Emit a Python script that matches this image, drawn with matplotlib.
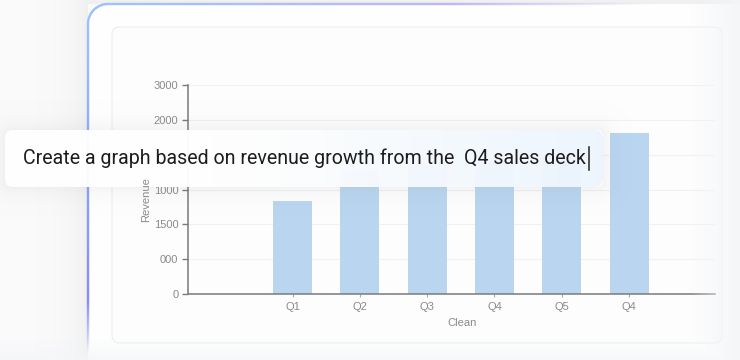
import numpy as np
import matplotlib
matplotlib.use("Agg")
import matplotlib.pyplot as plt
from matplotlib.patches import FancyBboxPatch

# ---- data ----
categories = ['Q1', 'Q2', 'Q3', 'Q4', 'Q5', 'Q4']
revenue = [1330, 1800, 1850, 1900, 1950, 2310]
ytick_values = [0, 500, 1000, 1500, 2000, 2500, 3000]
ytick_labels = ['0', '000', '1500', '1000', '', '2000', '3000']
x_label = 'Clean'
y_label = 'Revenue'
prompt_text = 'Create a graph based on revenue growth from the  Q4 sales deck'

W, H = 740, 360
fig = plt.figure(figsize=(W / 100, H / 100), dpi=100)
fig.patch.set_facecolor('#fafafb')

def frac(x, y):
    return x / W, (H - y) / H

# ---------- background layer ----------
bg = fig.add_axes([0, 0, 1, 1], zorder=0)
bg.set_xlim(0, W); bg.set_ylim(H, 0); bg.axis('off')

yy, xx = np.mgrid[0:H, 0:W].astype(float) + 0.5

def rect_dist(x0, y0, x1, y1):
    dx = np.maximum(np.maximum(x0 - xx, 0), xx - x1)
    dy = np.maximum(np.maximum(y0 - yy, 0), yy - y1)
    return np.hypot(dx, dy)

def rounded_sdf(x0, y0, x1, y1, r):
    cx, cy = (x0 + x1) / 2, (y0 + y1) / 2
    hx, hy = (x1 - x0) / 2, (y1 - y0) / 2
    qx = np.abs(xx - cx) - hx + r
    qy = np.abs(yy - cy) - hy + r
    out = np.hypot(np.maximum(qx, 0), np.maximum(qy, 0))
    ins = np.minimum(np.maximum(qx, qy), 0)
    return out + ins - r

# soft shadow left of outer card
d = rect_dist(88, 4, 800, 420)
sh = np.zeros((H, W, 4))
sh[..., :3] = 0.55
sh[..., 3] = np.where(d > 0, 0.10 * np.exp(-d / 16.0), 0)
bg.imshow(sh, extent=(0, W, H, 0), zorder=0, interpolation='nearest')

# outer card fill
outer = FancyBboxPatch((88, 4), 700, 400, boxstyle='round,pad=0,rounding_size=20',
                       fc='#fefefe', ec='none', zorder=1)
bg.add_patch(outer)

# gradient border of outer card (as image)
sdf = rounded_sdf(88, 4, 788, 404, 20)
mask = np.clip(1.7 - np.abs(sdf), 0, 1)
t_left = np.clip((yy - 24) / 336, 0, 1)
t_top = np.clip((xx - 108) / 380, 0, 1)
is_left = (xx < 108)
c_left0 = np.array([0.60, 0.76, 1.0]); c_left1 = np.array([0.50, 0.50, 0.98])
c_top0 = np.array([0.62, 0.77, 1.0]); c_top1 = np.array([0.76, 0.71, 0.98])
col_left = c_left0 * (1 - t_left[..., None]) + c_left1 * t_left[..., None]
col_top = c_top0 * (1 - t_top[..., None]) + c_top1 * t_top[..., None]
border = np.zeros((H, W, 4))
border[..., :3] = np.where(is_left[..., None], col_left, col_top)
a_left = np.where(yy < 300, 1.0, np.clip(1 - (yy - 300) / 55, 0, 1))
a_top = np.where(xx < 450, 1.0, np.clip(1 - (xx - 450) / 200, 0, 1))
border[..., 3] = mask * np.where(is_left, a_left, a_top)
bg.imshow(border, extent=(0, W, H, 0), zorder=2, interpolation='nearest')

# inner card
inner = FancyBboxPatch((112, 27), 610, 316, boxstyle='round,pad=0,rounding_size=8',
                       fc='#fdfdfd', ec='#efefef', lw=0.9, zorder=3)
bg.add_patch(inner)

# ---------- chart ----------
x_left, x_right, y_top, y_bot = 188, 715, 85, 294
spacing = 67.3
first_center = 292.5
xmin = -(first_center - x_left) / spacing
xmax = xmin + (x_right - x_left) / spacing
ax = fig.add_axes([x_left / W, (H - y_bot) / H, (x_right - x_left) / W,
                   (y_bot - y_top) / H], zorder=1)
ax.patch.set_alpha(0)
pos = np.arange(len(categories))
ax.bar(pos, revenue, width=39 / spacing, color='#b9d5ef', zorder=2)
ax.set_xlim(xmin, xmax)
ax.set_ylim(0, 3000)
ax.set_yticks(ytick_values)
ax.set_yticklabels(ytick_labels)
ax.set_xticks(pos)
ax.set_xticklabels(categories)
for s in ['top', 'right']:
    ax.spines[s].set_visible(False)
for s in ['left', 'bottom']:
    ax.spines[s].set_color('#7a7a7a')
    ax.spines[s].set_linewidth(1.1)
ax.grid(axis='y', color='#f1f1f1', lw=0.8, zorder=0)
ax.set_axisbelow(True)
ax.tick_params(axis='y', length=4, width=1, color='#7a7a7a', pad=3,
               labelsize=8, labelcolor='#8a8a8a')
ax.tick_params(axis='x', length=2, width=0.8, color='#aaaaaa', pad=4,
               labelsize=8, labelcolor='#8a8a8a')
for lab in ax.get_xticklabels() + ax.get_yticklabels():
    lab.set_fontfamily('Liberation Sans')
fig.text(*frac(462, 323), x_label, ha='center', va='center', fontsize=8,
         color='#8a8a8a', family='Liberation Sans')
fig.text(*frac(146, 222), y_label, ha='center', va='bottom', rotation=90,
         fontsize=8, color='#8a8a8a', family='Liberation Sans')

# right / bottom fade
fade = np.zeros((H, W, 4))
fade[..., 0] = 0.955; fade[..., 1] = 0.962; fade[..., 2] = 0.972
fa = np.clip((xx - 690) / 50, 0, 1) * 0.9
fb = np.clip((yy - 338) / 22, 0, 1) * 0.7
fade[..., 3] = np.maximum(fa, fb)

# ---------- overlay layer ----------
ov = fig.add_axes([0, 0, 1, 1], zorder=3)
ov.set_xlim(0, W); ov.set_ylim(H, 0); ov.axis('off'); ov.patch.set_alpha(0)
ov.imshow(fade, extent=(0, W, H, 0), zorder=0, interpolation='nearest')

bx0, by0, bx1, by1 = 5, 130, 603, 187
d2 = rect_dist(bx0 + 6, by0 + 6, bx1 - 6, by1 - 6)
sh2 = np.zeros((H, W, 4))
sh2[..., :3] = 0.5
sh2[..., 3] = np.where(d2 > 6, 0.08 * np.exp(-(d2 - 6) / 10.0), 0)
ov.imshow(sh2, extent=(0, W, H, 0), zorder=1, interpolation='nearest')

# prompt box with horizontal white->light-blue tint
grad = np.zeros((by1 - by0, bx1 - bx0, 4))
tx = np.linspace(0, 1, bx1 - bx0)
tint = np.clip((tx - 0.35) / 0.65, 0, 1)
grad[..., 0] = 1.0 - 0.07 * tint
grad[..., 1] = 1.0 - 0.04 * tint
grad[..., 2] = 1.0 - 0.005 * tint
grad[..., 3] = 0.96
im = ov.imshow(grad, extent=(bx0, bx1, by1, by0), zorder=2, interpolation='bilinear')
clip = FancyBboxPatch((bx0, by0), bx1 - bx0, by1 - by0,
                      boxstyle='round,pad=0,rounding_size=10', fc='none', ec='none',
                      transform=ov.transData)
ov.add_patch(clip)
im.set_clip_path(clip)

txt = ov.text(23, 164, prompt_text, ha='left', va='baseline', fontsize=14.1,
              color='#1d1d1f', family='Roboto')
fig.canvas.draw()
bb = txt.get_window_extent()
end_x = bb.x1 + 3
ov.plot([end_x, end_x], [147, 170], color='#222222', lw=1.1, zorder=4)

fig.savefig('out.png', dpi=100, facecolor=fig.get_facecolor())
